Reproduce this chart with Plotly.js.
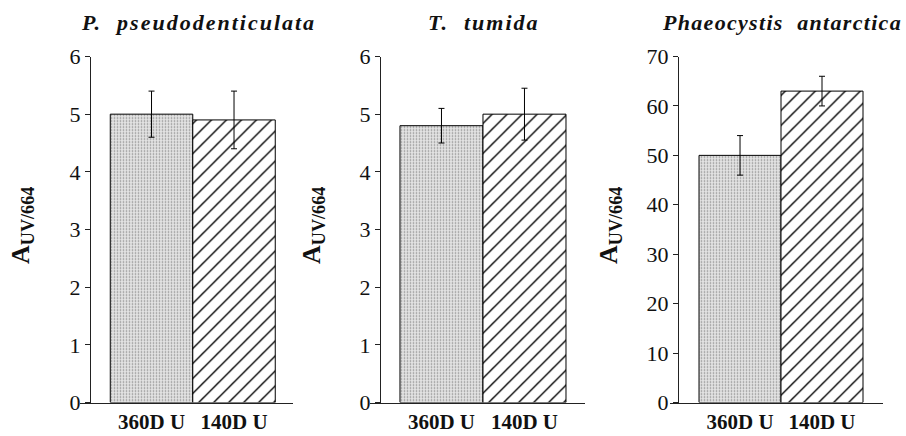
<!DOCTYPE html>
<html>
<head>
<meta charset="utf-8">
<script src="https://cdn.plot.ly/plotly-3.0.1.min.js"></script>
<style>html,body{margin:0;padding:0;background:#fff;}#chart{width:906px;height:436px;}</style>
</head>
<body>
<div id="chart"></div>
<script>
// ---- data ----
const categories = ['360D U', '140D U'];
const panelTitles = ['P.  pseudodenticulata', 'T.  tumida', 'Phaeocystis  antarctica'];
const valuesP = [5.0, 4.9];
const errorsP = [0.4, 0.5];
const valuesT = [4.8, 5.0];
const errorsT = [0.3, 0.45];
const valuesPh = [50, 63];
const errorsPh = [4, 3];
const yTitle = 'A<sub>UV/664</sub>';

const serif = 'Liberation Serif';
const patternShapes = ['.', '/'];
const patternFg = ['#8c8c8c', '#000000'];
const patternBg = ['#e4e4e4', '#ffffff'];
const patternSize = [3, 10.6];
const patternSolid = [0.25, 0.13];

function barTrace(vals, errs, i) {
  return {
    type: 'bar', x: categories, y: vals,
    xaxis: i === 0 ? 'x' : 'x' + (i + 1),
    yaxis: i === 0 ? 'y' : 'y' + (i + 1),
    marker: {
      color: '#ffffff',
      line: {color: '#000', width: 1},
      pattern: {shape: patternShapes, fgcolor: patternFg, bgcolor: patternBg,
                size: patternSize, solidity: patternSolid, fillmode: 'replace', fgopacity: 1}
    },
    error_y: {type: 'data', array: errs, visible: true, color: '#000', thickness: 1, width: 3},
    hoverinfo: 'none', showlegend: false
  };
}

const data = [
  barTrace(valuesP, errorsP, 0),
  barTrace(valuesT, errorsT, 1),
  barTrace(valuesPh, errorsPh, 2)
];

const W = 906, H = 436;
const yDom = [1 - 402.5 / H, 1 - 56.5 / H];

function xax(dom, range) {
  return {domain: [dom[0] / W, dom[1] / W], range: range, type: 'category',
    showline: true, linecolor: '#222', linewidth: 1, ticks: '', showgrid: false, zeroline: false,
    fixedrange: true, ticklabelstandoff: 0,
    tickfont: {family: serif, size: 21, color: '#111', weight: 'bold'}};
}
function yax(pos, range, dtick) {
  return {domain: yDom, range: range, anchor: 'free', position: pos / W,
    showline: true, linecolor: '#222', linewidth: 1, ticks: 'outside', ticklen: 5, tickcolor: '#222',
    dtick: dtick, tick0: 0, showgrid: false, zeroline: false, fixedrange: true,
    tickfont: {family: serif, size: 22, color: '#111'}};
}

const layout = {
  width: W, height: H, margin: {l: 0, r: 0, t: 0, b: 0},
  paper_bgcolor: '#fff', plot_bgcolor: 'rgba(0,0,0,0)',
  bargap: 0, showlegend: false,
  xaxis: xax([80, 293], [-0.867, 1.715]),
  xaxis2: xax([370, 585], [-0.861, 1.729]),
  xaxis3: xax([670, 883], [-0.854, 1.744]),
  yaxis: yax(90, [0, 6], 1),
  yaxis2: yax(380, [0, 6], 1),
  yaxis3: yax(678, [0, 70], 10),
  annotations: []
};

const titleX = [198, 484, 782];
const titleSpacing = ['2px', '2px', '1.3px'];
const yTitleX = [22, 313, 610];
panelTitles.forEach((t, i) => {
  layout.annotations.push({
    xref: 'paper', yref: 'paper', x: titleX[i] / W, y: 1 - 22 / H,
    xanchor: 'center', yanchor: 'middle', showarrow: false,
    text: t, name: 'title' + i,
    font: {family: serif, size: 22, color: '#111', weight: 'bold', style: 'italic'}
  });
  layout.annotations.push({
    xref: 'paper', yref: 'paper', x: yTitleX[i] / W, y: 1 - 226 / H,
    xanchor: 'center', yanchor: 'middle', showarrow: false, textangle: -90,
    text: yTitle,
    font: {family: serif, size: 26, color: '#111', weight: 'bold'}
  });
});

Plotly.newPlot('chart', data, layout, {staticPlot: true, displayModeBar: false}).then(gd => {
  // wider letter spacing on panel titles, as in the printed figure
  let k = 0;
  gd.querySelectorAll('.annotation-text').forEach(t => {
    if (!t.textContent.startsWith('A')) { t.style.letterSpacing = titleSpacing[k] || '2px'; k++; }
  });
});
</script>
</body>
</html>
